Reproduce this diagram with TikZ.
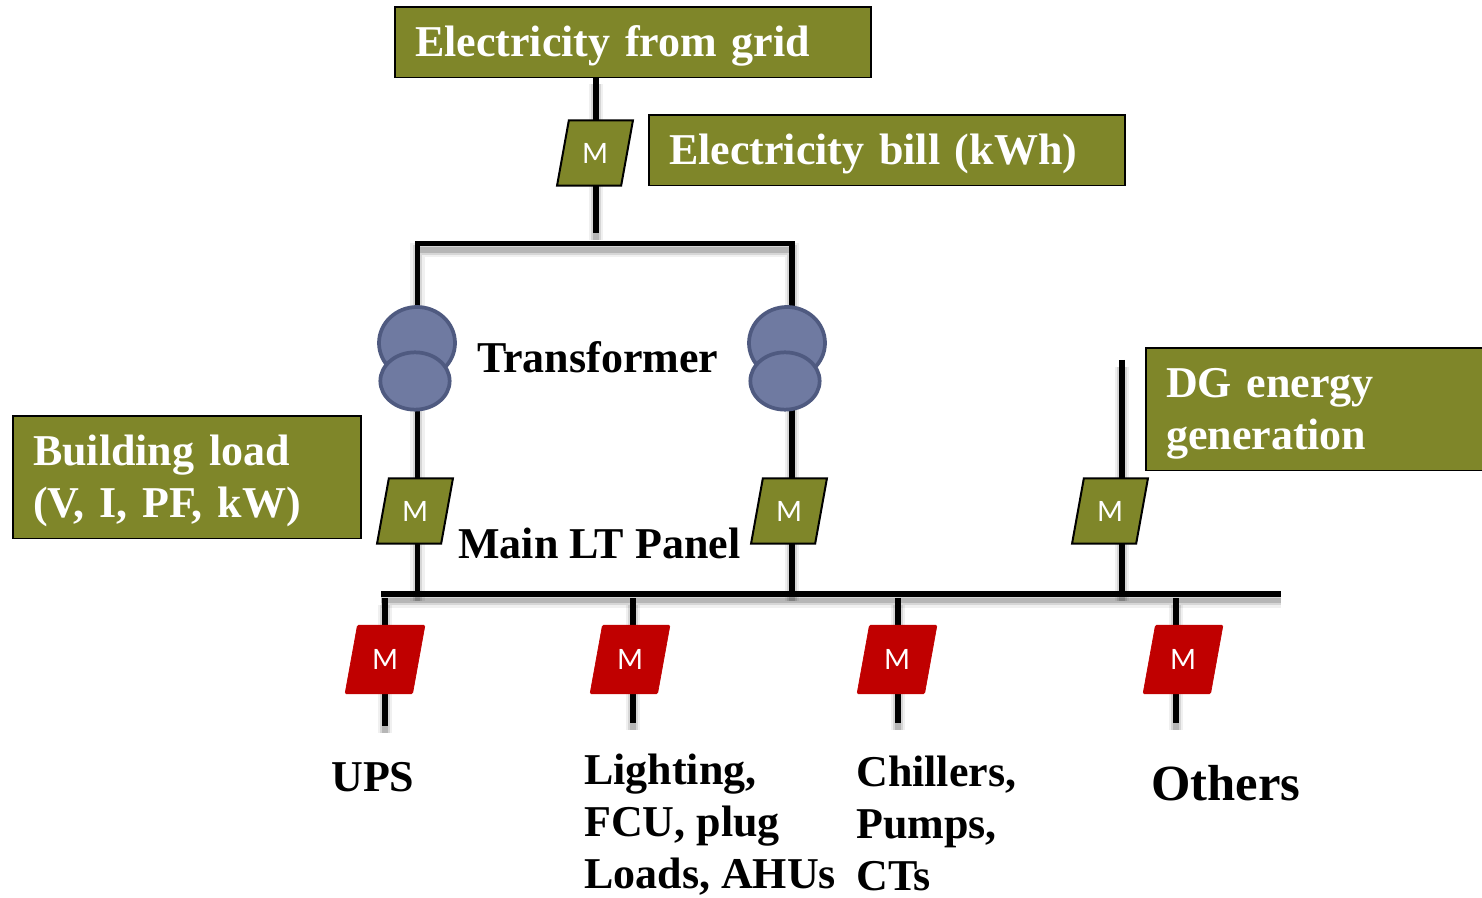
\documentclass[tikz,border=0pt]{standalone}
\usepackage{fontspec}
\setmainfont{Liberation Serif}
\newfontfamily\meterfont{Lato}
\usepackage{xcolor}
\usetikzlibrary{shapes.geometric,backgrounds}
\definecolor{olivebox}{HTML}{7F8629}
\definecolor{redmeter}{HTML}{C00000}
\definecolor{coilfill}{HTML}{6F7AA1}
\definecolor{coilline}{HTML}{4F5A80}
\tikzset{
infobox/.style={
draw=black,
line width=1.2pt,
fill=olivebox,
anchor=north west,
outer sep=0pt,
inner xsep=15pt,
inner ysep=0pt,
align=left,
text=white,
execute at begin node={\rule{0pt}{29pt}},
font=\fontsize{33}{39}\selectfont\bfseries
},
meter/.style={
trapezium,
trapezium stretches=true,
trapezium left angle=73.7,
trapezium right angle=106.3,
minimum width=57pt,
minimum height=49pt,
inner sep=0pt,
outer sep=0pt,
draw=black,
line width=1.5pt,
fill=olivebox,
text=white,
font=\fontsize{21}{21}\selectfont\meterfont
},
redbox/.style={
meter,
minimum width=60pt,
minimum height=51.5pt,
draw=redmeter,
line width=0.5pt,
rounded corners=1pt,
fill=redmeter
},
coil/.style={
ellipse,
draw=coilline,
line width=2.8pt,
fill=coilfill,
inner sep=0pt
},
label/.style={
anchor=west,
align=left,
inner sep=0pt,
font=\fontsize{33}{39}\selectfont\bfseries
},
wire/.style={
line width=3.9pt,
preaction={draw=black,opacity=.06,line width=11pt,transform canvas={yshift=-5pt}},
preaction={draw=black,opacity=.11,line width=7pt,transform canvas={yshift=-5pt}},
preaction={draw=black,opacity=.15,line width=4pt,transform canvas={yshift=-5pt}}
}
}

\begin{document}
\begin{tikzpicture}[x=0.75pt,y=-0.75pt]
\useasboundingbox (0,0) rectangle (1482,898);

\node[infobox,minimum width=357pt,minimum height=53pt,text width=327pt](grid) at (395,7){Electricity from grid};
\node[infobox,minimum width=357pt,minimum height=53pt,text width=327pt](bill) at (649,115){Electricity bill (kWh)};
\node[infobox,minimum width=261pt,minimum height=92pt,text width=231pt](load) at (13,416){Building load\\(V, I, PF, kW)};
\node[infobox,minimum width=260pt,minimum height=92pt,text width=230pt](dg) at (1146,348){DG energy\\generation};

\node[meter](mgrid) at (595,153){M};
\node[meter](mleft) at (415,511){M};
\node[meter](mright) at (789,511){M};
\node[meter](mdg) at (1110,511){M};

\node[redbox](mups) at (385,659.5){M};
\node[redbox](mlight) at (630,659.5){M};
\node[redbox](mchill) at (897,659.5){M};
\node[redbox](mother) at (1183,659.5){M};

\node[coil,minimum width=57pt,minimum height=54pt](upleft) at (417,343){};
\node[coil,minimum width=52pt,minimum height=43pt](lowleft) at (415,381){};
\node[coil,minimum width=57pt,minimum height=54pt](upright) at (787,343){};
\node[coil,minimum width=52pt,minimum height=43pt](lowright) at (785,381){};

\node[label](xfmr) at (477,357){Transformer};
\node[label](panel) at (458,543){Main LT Panel};
\node[label](ups) at (331,777){UPS};
\node[label](light) at (584,825){Lighting,\\FCU, plug\\Loads, AHUs};
\node[label](chill) at (856,823){Chillers,\\Pumps,\\CTs};
\node[label,font=\fontsize{38}{39}\selectfont\bfseries](other) at (1151,783){Others};

\coordinate (gridend) at (596,233);
\coordinate (topleft) at (417.5,243.5);
\coordinate (topright) at (792,243.5);
\coordinate (busleft) at (381,594);
\coordinate (busright) at (1281,594);
\coordinate (dgtop) at (1122,360);
\coordinate (fedleft) at (417.5,594);
\coordinate (fedright) at (792,594);
\coordinate (feddg) at (1122,594);
\coordinate (dropa) at (385,598);
\coordinate (dropb) at (633,598);
\coordinate (dropc) at (898,598);
\coordinate (dropd) at (1176,598);
\coordinate (enda) at (385,726);
\coordinate (endb) at (633,723);
\coordinate (endc) at (898,723);
\coordinate (endd) at (1176,723);

\begin{scope}[on background layer]
\draw[wire](grid.south -| gridend)--(gridend);
\draw[wire](topleft |- upleft)--(topleft)--(topright)--(topright |- upright);
\draw[wire](topleft |- lowleft)--(fedleft);
\draw[wire](topright |- lowright)--(fedright);
\draw[wire](dgtop)--(feddg);
\draw[wire](busleft)--(busright);
\foreach \x/\y in {dropa/enda,dropb/endb,dropc/endc,dropd/endd}
\draw[wire](\x)--(\y);
\end{scope}
\end{tikzpicture}
\end{document}
